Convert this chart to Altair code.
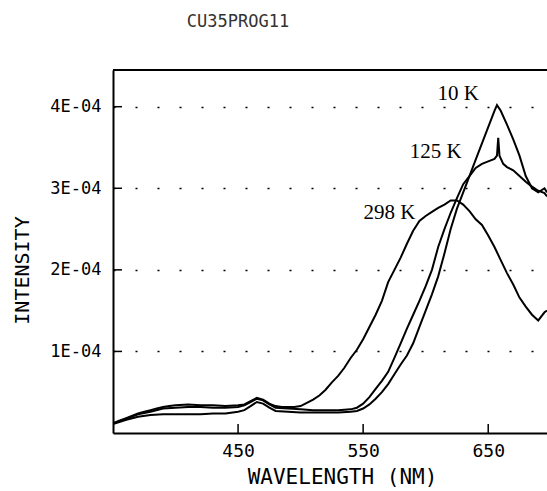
import altair as alt
import pandas as pd

# ---- data (intensity in units of 1E-04) ----
wl_298 = [350, 355, 360, 365, 370, 375, 380, 385, 390, 395, 400, 410, 420, 430, 440, 450, 455, 460, 465, 470, 475,
          480, 485, 490, 495, 500, 505, 510, 515, 520, 525, 530, 535, 540, 545, 550, 555, 560, 565, 570, 575,
          580, 585, 590, 595, 600, 605, 610, 615, 620, 625, 630, 635, 640, 645, 650, 655, 660, 665, 670, 675,
          680, 685, 690, 695, 697]
int_298 = [0.12, 0.15, 0.18, 0.21, 0.24, 0.26, 0.28, 0.30, 0.32, 0.33, 0.34, 0.35, 0.34, 0.34, 0.33, 0.34, 0.35, 0.39, 0.43, 0.41, 0.36,
           0.33, 0.32, 0.32, 0.32, 0.33, 0.37, 0.41, 0.46, 0.53, 0.62, 0.70, 0.80, 0.92, 1.02, 1.15, 1.30, 1.45, 1.62, 1.85, 2.00,
           2.15, 2.32, 2.48, 2.60, 2.66, 2.71, 2.76, 2.80, 2.85, 2.85, 2.80, 2.72, 2.62, 2.55, 2.42, 2.28, 2.12, 1.96, 1.82, 1.66,
           1.55, 1.45, 1.38, 1.48, 1.50]

wl_125 = [350, 360, 370, 380, 390, 400, 410, 420, 430, 440, 450, 455, 460, 465, 470, 475, 480, 490, 500, 510, 520,
          530, 540, 545, 550, 555, 560, 565, 570, 575, 580, 585, 590, 595, 600, 605, 610, 615, 620, 625, 630,
          635, 640, 645, 650, 655, 657, 658, 659, 662, 665, 670, 675, 680, 685, 690, 695, 697]
int_125 = [0.12, 0.17, 0.23, 0.26, 0.30, 0.31, 0.32, 0.32, 0.31, 0.31, 0.32, 0.34, 0.38, 0.42, 0.40, 0.35, 0.31, 0.30, 0.29, 0.28, 0.28,
           0.28, 0.29, 0.31, 0.36, 0.44, 0.54, 0.64, 0.75, 0.92, 1.10, 1.28, 1.45, 1.62, 1.80, 2.00, 2.28, 2.50, 2.70, 2.88, 3.05,
           3.15, 3.25, 3.30, 3.33, 3.36, 3.40, 3.62, 3.40, 3.30, 3.26, 3.22, 3.15, 3.08, 3.02, 2.97, 2.94, 2.90]

wl_10 = [350, 360, 370, 380, 390, 400, 410, 420, 430, 440, 450, 455, 460, 465, 470, 475, 480, 490, 500, 510, 520,
         530, 540, 545, 550, 555, 560, 565, 570, 575, 580, 585, 590, 595, 600, 605, 610, 615, 620, 625, 630,
         635, 640, 645, 650, 655, 657, 660, 665, 670, 675, 680, 685, 690, 695, 697]
int_10 = [0.11, 0.16, 0.20, 0.22, 0.23, 0.23, 0.23, 0.23, 0.24, 0.24, 0.26, 0.28, 0.33, 0.38, 0.36, 0.31, 0.27, 0.26, 0.25, 0.25, 0.25,
          0.25, 0.26, 0.27, 0.30, 0.35, 0.42, 0.50, 0.60, 0.72, 0.84, 0.95, 1.10, 1.30, 1.50, 1.70, 1.92, 2.20, 2.50, 2.75, 2.95,
          3.15, 3.35, 3.55, 3.75, 3.95, 4.02, 3.95, 3.78, 3.60, 3.40, 3.15, 3.00, 2.95, 3.00, 2.95]

label_text = ["298 K", "125 K", "10 K"]
label_wl = [571, 608, 626]
label_int = [2.70, 3.45, 4.15]

x_ticks = [450, 550, 650]
y_ticks = [1, 2, 3, 4]

SCALE = 1e-4
rows = []
for name, wl, iv in [("298 K", wl_298, int_298), ("125 K", wl_125, int_125), ("10 K", wl_10, int_10)]:
    for w, v in zip(wl, iv):
        rows.append({"series": name, "wl": w, "intensity": v * SCALE})
df = pd.DataFrame(rows)
labels = pd.DataFrame({"text": label_text, "wl": label_wl, "intensity": [v * SCALE for v in label_int]})
xt = pd.DataFrame({"wl": x_ticks})
yt = pd.DataFrame({"intensity": [v * SCALE for v in y_ticks]})

W, H = 434, 363
MONO = "DejaVu Sans Mono"

xscale = alt.Scale(domain=[350, 697], nice=False, zero=False)
yscale = alt.Scale(domain=[0, 4.45e-4], nice=False)

xaxis = alt.Axis(values=x_ticks, ticks=False, grid=False, domainColor="black", domainWidth=2,
                 labelFont=MONO, labelFontSize=18, labelColor="black", labelPadding=9,
                 title="WAVELENGTH (NM)", titleFont=MONO, titleFontSize=21, titleFontWeight="normal",
                 titleColor="black", titleX=229, titleY=44, titleAlign="center", titleBaseline="middle")
yaxis = alt.Axis(values=[v * SCALE for v in y_ticks], ticks=False, grid=True, gridColor="black",
                 gridDash=[2, 20], gridWidth=1.5, domainColor="black", domainWidth=2,
                 labelExpr="round(datum.value*10000) + 'E-04'",
                 labelFont=MONO, labelFontSize=17, labelColor="black", labelPadding=12,
                 title="INTENSITY", titleFont=MONO, titleFontSize=20, titleFontWeight="normal",
                 titleColor="black", titleX=-91, titleY=200, titleAngle=-90, titleAlign="center",
                 titleBaseline="middle")

lines = alt.Chart(df).mark_line(strokeWidth=2, color="black", clip=True).encode(
    x=alt.X("wl:Q", scale=xscale, axis=xaxis),
    y=alt.Y("intensity:Q", scale=yscale, axis=yaxis),
    detail="series:N",
)

text = alt.Chart(labels).mark_text(font="Liberation Serif", fontSize=21, color="black").encode(
    x=alt.X("wl:Q", scale=xscale),
    y=alt.Y("intensity:Q", scale=yscale),
    text="text:N",
)

xticks = alt.Chart(xt).mark_rule(color="black", strokeWidth=1.5).encode(
    x=alt.X("wl:Q", scale=xscale), y=alt.value(H), y2=alt.value(H - 9))
yticks = alt.Chart(yt).mark_rule(color="black", strokeWidth=1.5).encode(
    y=alt.Y("intensity:Q", scale=yscale), x=alt.value(0), x2=alt.value(9))
topline = alt.Chart(xt).mark_rule(color="black", strokeWidth=2).encode(
    x=alt.value(0), x2=alt.value(W), y=alt.value(0))

chart = alt.layer(lines, text, xticks, yticks, topline).properties(
    width=W, height=H,
    title=alt.TitleParams("CU35PROG11", font=MONO, fontSize=17, fontWeight="normal", color="#333",
                          anchor="middle", dx=-92, offset=38),
    autosize=alt.AutoSizeParams(type="none"),
    padding={"left": 113, "top": 70, "right": 0, "bottom": 58},
).configure_view(stroke=None).configure(background="white")

chart.save("out.html", embed_options={"renderer": "svg", "actions": False})
